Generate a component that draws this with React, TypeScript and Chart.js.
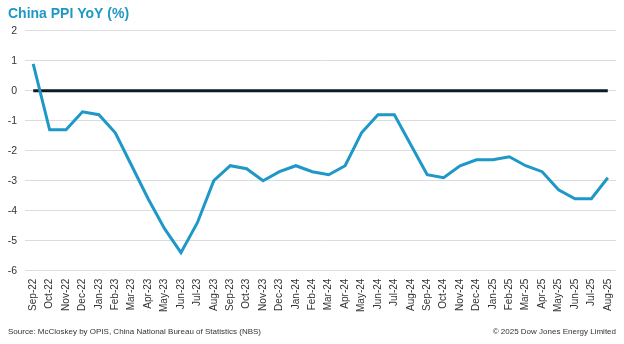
import React, { useEffect, useRef } from "react";
import { Chart, registerables } from "chart.js";

Chart.register(...registerables);

const categories = [
  "Sep-22", "Oct-22", "Nov-22", "Dec-22", "Jan-23", "Feb-23", "Mar-23", "Apr-23", "May-23",
  "Jun-23", "Jul-23", "Aug-23", "Sep-23", "Oct-23", "Nov-23", "Dec-23", "Jan-24", "Feb-24",
  "Mar-24", "Apr-24", "May-24", "Jun-24", "Jul-24", "Aug-24", "Sep-24", "Oct-24", "Nov-24",
  "Dec-24", "Jan-25", "Feb-25", "Mar-25", "Apr-25", "May-25", "Jun-25", "Jul-25", "Aug-25",
];

const ppiYoY = [
  0.9, -1.3, -1.3, -0.7, -0.8, -1.4, -2.5, -3.6, -4.6,
  -5.4, -4.4, -3.0, -2.5, -2.6, -3.0, -2.7, -2.5, -2.7,
  -2.8, -2.5, -1.4, -0.8, -0.8, -1.8, -2.8, -2.9, -2.5,
  -2.3, -2.3, -2.2, -2.5, -2.7, -3.3, -3.6, -3.6, -2.9,
];

const yMin = -6;
const yMax = 2;
const yStep = 1;
const baselineValue = 0;

const titleText = "China PPI YoY (%)";
const sourceText = "Source: McCloskey by OPIS, China National Bureau of Statistics (NBS)";
const copyrightText = "\u00A9 2025 Dow Jones Energy Limited";

const FONT = "'Liberation Sans', Arial, sans-serif";
const TEAL = "#1e98c6";

export default function App() {
  const ref = useRef<HTMLCanvasElement | null>(null);

  useEffect(() => {
    document.body.style.margin = "0";
    const canvas = ref.current;
    if (!canvas) return;

    const baselinePlugin = {
      id: "baseline",
      beforeDatasetsDraw(chart: any) {
        const { ctx, scales } = chart;
        const y = scales.y.getPixelForValue(baselineValue);
        const x0 = scales.x.getPixelForValue(0);
        const x1 = scales.x.getPixelForValue(categories.length - 1);
        ctx.save();
        ctx.strokeStyle = "#0d1a24";
        ctx.lineWidth = 3;
        ctx.beginPath();
        ctx.moveTo(x0, y);
        ctx.lineTo(x1, y);
        ctx.stroke();
        ctx.restore();
      },
    };

    const footerPlugin = {
      id: "footerTexts",
      afterDraw(chart: any) {
        const { ctx, chartArea, height } = chart;
        ctx.save();
        ctx.font = `8px ${FONT}`;
        ctx.fillStyle = "#333333";
        ctx.textBaseline = "middle";
        ctx.textAlign = "left";
        ctx.fillText(sourceText, 8, height - 12);
        ctx.textAlign = "right";
        ctx.fillText(copyrightText, chartArea.right, height - 12);
        ctx.restore();
      },
    };

    const chart = new Chart(canvas, {
      type: "line",
      data: {
        labels: categories,
        datasets: [
          {
            label: "China PPI YoY (%)",
            data: ppiYoY,
            borderColor: TEAL,
            backgroundColor: TEAL,
            borderWidth: 3,
            pointRadius: 0,
            tension: 0,
          },
        ],
      },
      options: {
        animation: false,
        responsive: false,
        maintainAspectRatio: false,
        layout: { padding: { left: 8, right: 8, top: 0, bottom: 32 } },
        plugins: {
          legend: { display: false },
          tooltip: { enabled: false },
          title: {
            display: true,
            text: titleText,
            align: "start",
            color: TEAL,
            font: { family: FONT, size: 14, weight: "bold" },
            padding: { top: 6, bottom: 8 },
          },
        },
        scales: {
          x: {
            offset: true,
            grid: { display: false },
            border: { display: false },
            ticks: {
              autoSkip: false,
              maxRotation: 90,
              minRotation: 90,
              color: "#333333",
              font: { family: FONT, size: 10 },
              padding: 0,
            },
          },
          y: {
            min: yMin,
            max: yMax,
            afterFit(scale: any) {
              scale.width = 17;
            },
            ticks: {
              stepSize: yStep,
              color: "#333333",
              font: { family: FONT, size: 10.5 },
              padding: 8,
            },
            grid: { color: "#dcdcdc", lineWidth: 1, drawTicks: false },
            border: { display: false },
          },
        },
      },
      plugins: [baselinePlugin, footerPlugin],
    });

    return () => chart.destroy();
  }, []);

  return (
    <div style={{ width: 624, height: 344, background: "#ffffff" }}>
      <canvas ref={ref} width={624} height={344} style={{ display: "block" }} />
    </div>
  );
}
